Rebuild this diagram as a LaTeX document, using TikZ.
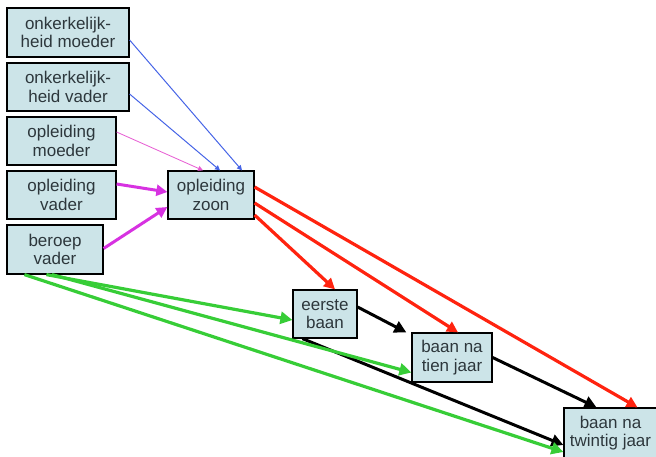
\documentclass[tikz,border=0pt]{standalone}
\usepackage{fontspec}
\setmainfont{Liberation Sans}
\usetikzlibrary{arrows.meta}
\definecolor{boxfill}{RGB}{204,228,232}
\definecolor{boxtext}{RGB}{45,55,60}
\definecolor{kerkblue}{RGB}{70,100,230}
\definecolor{lichtroze}{RGB}{230,90,210}
\definecolor{paars}{RGB}{215,50,225}
\definecolor{rood}{RGB}{255,35,15}
\definecolor{groen}{RGB}{55,205,55}
\begin{document}
\begin{tikzpicture}[x=1pt, y=-1pt,
	box/.style={draw=black, line width=1.2pt, fill=boxfill, align=center, inner sep=0pt,
		text=boxtext, font=\fontsize{17}{18.5}\selectfont},
	blauwpijl/.style={kerkblue, line width=1pt, -{Triangle[length=5pt,width=5pt]}},
	rozepijl/.style={lichtroze, line width=0.8pt, -{Triangle[length=5pt,width=5pt]}},
	paarspijl/.style={paars, line width=3pt, -{Triangle[length=11pt,width=11pt]}},
	roodpijl/.style={rood, line width=3.2pt, -{Triangle[length=11pt,width=11pt]}},
	zwartpijl/.style={black, line width=3pt, -{Triangle[length=12pt,width=12pt]}},
	groenpijl/.style={groen, line width=3.2pt, -{Triangle[length=12pt,width=12pt]}}]
	\useasboundingbox (0,0) rectangle (656,457);
	% achtergrond
	\node[box, minimum width=122pt, minimum height=49pt] (onkm) at (68,32.5) {onkerkelijk-\\heid moeder};
	\node[box, minimum width=122pt, minimum height=48pt] (onkv) at (68,87) {onkerkelijk-\\heid vader};
	\node[box, minimum width=109pt, minimum height=48pt] (oplm) at (61.5,141) {opleiding\\moeder};
	\node[box, minimum width=109pt, minimum height=48pt] (oplv) at (61.5,195) {opleiding\\vader};
	\node[box, minimum width=96pt, minimum height=49pt] (berv) at (55,249.5) {beroep\\vader};
	% zoon
	\node[box, minimum width=86pt, minimum height=48pt] (oplz) at (211,195) {opleiding\\zoon};
	\node[box, minimum width=64pt, minimum height=48pt] (baan1) at (325,314) {eerste\\baan};
	\node[box, minimum width=80pt, minimum height=49pt] (baan10) at (452,357.5) {baan na\\tien jaar};
	\node[box, minimum width=93pt, minimum height=50pt] (baan20) at (610.5,433) {baan na\\twintig jaar};
	% naar opleiding zoon
	\draw[blauwpijl] ([yshift=-7.5pt]onkm.east) -- ([xshift=31pt]oplz.north);
	\draw[blauwpijl] ([yshift=-7pt]onkv.east) -- ([xshift=9pt]oplz.north);
	\draw[rozepijl] ([yshift=9pt]oplm.east) -- ([xshift=-8pt]oplz.north);
	\draw[paarspijl] ([yshift=11pt]oplv.east) -- ([yshift=3pt]oplz.west);
	\draw[paarspijl] ([yshift=1pt]berv.east) -- ([yshift=-12pt]oplz.west);
	% opleiding zoon naar banen
	\draw[roodpijl] ([yshift=8pt]oplz.east) -- ([xshift=27pt]baan20.north);
	\draw[roodpijl] ([yshift=-8pt]oplz.east) -- ([xshift=6pt]baan10.north);
	\draw[roodpijl] ([yshift=-20pt]oplz.east) -- ([xshift=10pt]baan1.north);
	% banen onderling
	\draw[zwartpijl] ([yshift=7pt]baan1.east) -- ([xshift=-5pt]baan10.north west);
	\draw[zwartpijl] ([xshift=10pt]baan1.south west) -- ([yshift=-12pt]baan20.west);
	\draw[zwartpijl] (baan10.east) -- ([xshift=-14pt]baan20.north);
	% beroep vader naar banen
	\draw[groenpijl] ([xshift=40pt]berv.south west) -- ([yshift=-6pt]baan1.west);
	\draw[groenpijl] ([xshift=-3pt]berv.south) -- ([yshift=-15pt]baan10.west);
	\draw[groenpijl] ([xshift=18pt]berv.south west) -- ([yshift=-19pt]baan20.west);
\end{tikzpicture}
\end{document}
